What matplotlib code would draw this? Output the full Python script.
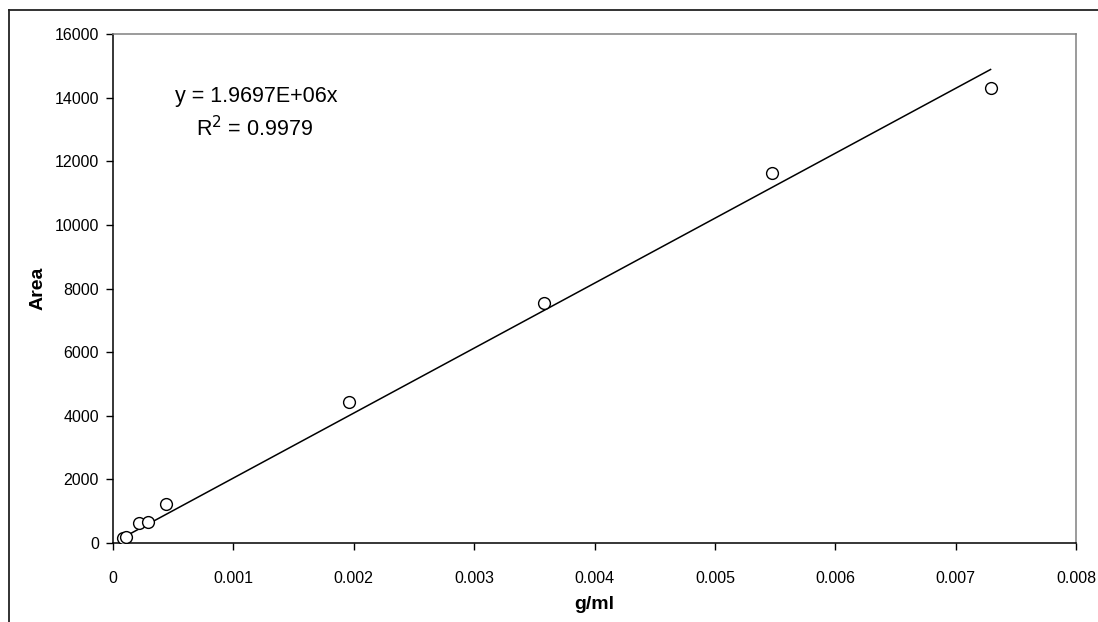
import numpy as np
import matplotlib
matplotlib.use("Agg")
import matplotlib.pyplot as plt
from matplotlib.lines import Line2D

plt.rcParams['font.family'] = ['Liberation Sans', 'DejaVu Sans']

# standard points
conc = [0.000081, 0.000108, 0.000218, 0.000293, 0.00044,
        0.001963, 0.003582, 0.005476, 0.00729]
area = [167, 198, 619, 670, 1226, 4423, 7535, 11640, 14293]

eq_text = "y = 1.9697E+06x"
r2_text = "R$^2$ = 0.9979"

x_ticks = [0, 0.001, 0.002, 0.003, 0.004, 0.005, 0.006, 0.007, 0.008]
x_ticklabels = ['0', '0.001', '0.002', '0.003', '0.004', '0.005', '0.006', '0.007', '0.008']
y_ticks = list(range(0, 16001, 2000))

fig = plt.figure(figsize=(10.98, 6.22), dpi=100)
ax = fig.add_axes([0.1029, 0.127, 0.8771, 0.8183])

ax.plot(conc, area, 'o', mfc='white', mec='black', ms=8.5, mew=1.0, zorder=3)

# linear trend through the origin, over the range of the points
x = np.array(conc)
y = np.array(area)
slope = (x * y).sum() / (x * x).sum()
tx = np.array([x.min(), x.max()])
ax.plot(tx, slope * tx, color='black', lw=1.1, zorder=2)

ax.set_xlim(0, 0.008)
ax.set_ylim(0, 16000)
ax.set_xticks(x_ticks)
ax.set_xticklabels(x_ticklabels)
ax.set_yticks(y_ticks)
ax.tick_params(direction='out', length=5, width=1, labelsize=11.5, pad=5)
ax.tick_params(axis='x', pad=15)

for s in ['top', 'right']:
    ax.spines[s].set_color('#808080')
for s in ['left', 'bottom']:
    ax.spines[s].set_color('black')
for s in ax.spines.values():
    s.set_linewidth(1.1)

ax.set_xlabel('g/ml', fontsize=14, fontweight='bold', labelpad=7)
ax.set_ylabel('Area', fontsize=14, fontweight='bold', labelpad=6)

ax.text(0.1485, 0.877, eq_text, transform=ax.transAxes, ha='center', va='center', fontsize=15.5)
ax.text(0.1465, 0.814, r2_text, transform=ax.transAxes, ha='center', va='center', fontsize=15.5)

# outer chart frame (only left and top edges are visible)
fig.add_artist(Line2D([9 / 1098, 9 / 1098], [0, 1 - 10 / 622], transform=fig.transFigure,
                      color='#222222', lw=1.3))
fig.add_artist(Line2D([9 / 1098, 1], [1 - 10 / 622, 1 - 10 / 622], transform=fig.transFigure,
                      color='#222222', lw=1.3))

fig.savefig('out.png', dpi=100)
